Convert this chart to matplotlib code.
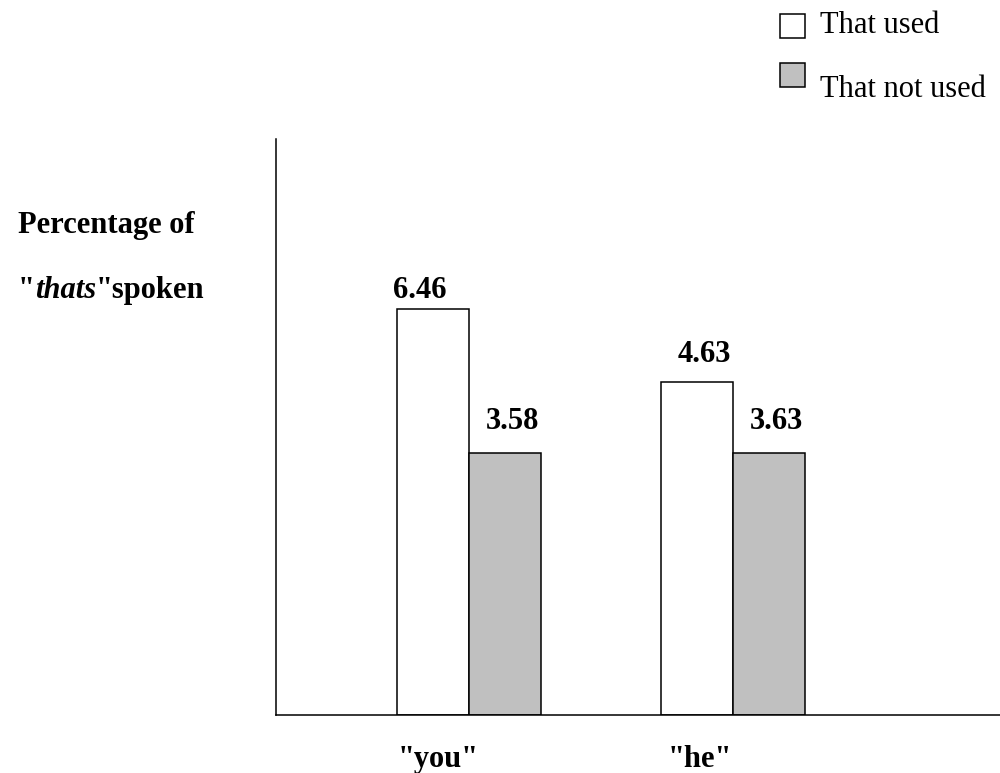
import numpy as np
import matplotlib
matplotlib.use("Agg")
import matplotlib.pyplot as plt
from matplotlib.patches import Rectangle

# 数据
categories = ['"you"', '"he"']
series_names = ["That used", "That not used"]
that_used = [6.46, 4.63]
that_not_used = [3.58, 3.63]
# 原图的柱子不是按数值比例画的，这里按图上量出来的高度
used_heights = [4.93, 4.05]
not_used_heights = [3.18, 3.18]

plt.rcParams['font.family'] = ['Liberation Serif', 'DejaVu Serif']

fig = plt.figure(figsize=(10, 7.73), dpi=100)
ax = fig.add_axes([0.276, 0.075, 0.724, 0.745])

x = np.arange(len(categories))
w = 0.2727
bars_used = ax.bar(x - w / 2, used_heights, w, color="white", edgecolor="black", linewidth=1.1)
bars_not = ax.bar(x + w / 2, not_used_heights, w, color="#c0c0c0", edgecolor="black", linewidth=1.1)

ax.set_xlim(-0.731, 2.011)
ax.set_ylim(0, 7.0)

# 数值标签（原图位置有点随意）
label_dx = [[-13, 7], [7, 7]]
label_dy = [[11, 24], [20, 24]]
for i in range(len(categories)):
    for j, (bars, vals) in enumerate([(bars_used, that_used), (bars_not, that_not_used)]):
        b = bars[i]
        ax.annotate(f"{vals[i]:.2f}", (b.get_x() + b.get_width() / 2, b.get_height()),
                    xytext=(label_dx[i][j], label_dy[i][j]), textcoords="offset pixels",
                    ha="center", va="baseline", fontsize=22, fontweight="bold")

# x轴类别标签
ax.set_xticks([])
tick_dx = [0.02, 0.01]
for i, c in enumerate(categories):
    ax.text(x[i] - w / 2 + tick_dx[i], -0.0903, c, transform=ax.get_xaxis_transform(),
            ha="center", va="baseline", fontsize=22, fontweight="bold")

ax.set_yticks([])
ax.spines['top'].set_visible(False)
ax.spines['right'].set_visible(False)
ax.spines['left'].set_linewidth(1.1)
ax.spines['bottom'].set_linewidth(1.1)

# y轴标题，两行，thats 用粗斜体
fig.text(0.018, 1 - 233 / 773, "Percentage of", fontsize=22, fontweight="bold", va="baseline")
renderer = fig.canvas.get_renderer()
xpos = 0.018
ybase = 1 - 298 / 773
for part, style in [('"', "normal"), ("thats", "italic"), ('"spoken', "normal")]:
    t = fig.text(xpos, ybase, part, fontsize=22, fontweight="bold", fontstyle=style, va="baseline")
    bb = t.get_window_extent(renderer=renderer)
    xpos += bb.width / fig.bbox.width

# 图例，手动画
legend_y = [1 - 38 / 773, 1 - 87 / 773]
text_y = [1 - 33 / 773, 1 - 97 / 773]
colors = ["white", "#c0c0c0"]
for k in range(2):
    fig.patches.append(Rectangle((0.780, legend_y[k]), 0.025, 24 / 773, transform=fig.transFigure,
                                 facecolor=colors[k], edgecolor="black", linewidth=1.1))
    fig.text(0.820, text_y[k], series_names[k], fontsize=22, va="baseline")

fig.savefig("out.png", dpi=100)
